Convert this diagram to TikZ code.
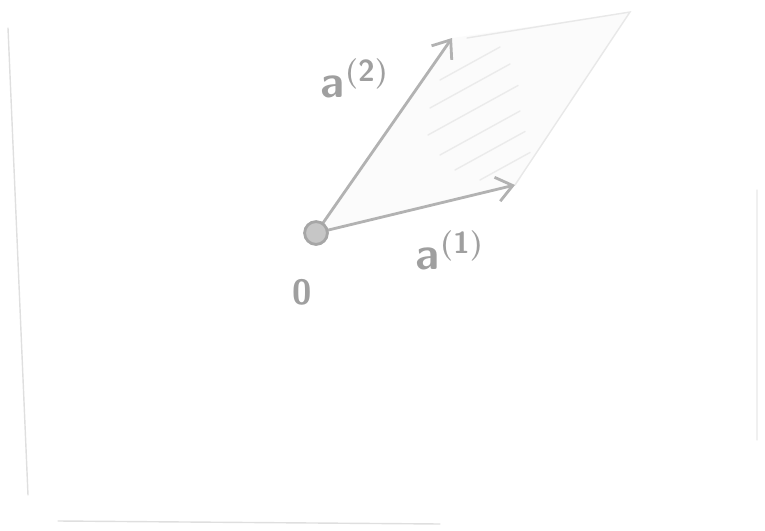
\documentclass[tikz,border=0pt]{standalone}
\usetikzlibrary{arrows.meta}
\begin{document}
\begin{tikzpicture}[x=0.02cm, y=-0.02cm, >={Straight Barb[length=9pt,width=14pt]},
  pencil/.style={draw=gray!60, line width=1.6pt, line cap=round},
  faint/.style={draw=gray!18, line width=0.8pt, line cap=round},
  lbl/.style={text=gray!75, font=\fontsize{26}{26}\selectfont\sffamily\bfseries\boldmath}]
\useasboundingbox (0,0) rectangle (765,531);
% frame of the page
\draw[faint, gray!25] (8,28) -- (28,495);
\draw[faint, gray!25] (58,521) -- (440,524);
\draw[faint, gray!12] (757,190) -- (757,440);
% corners of the parallelogram
\coordinate (O) at (316,233);
\coordinate (A1) at (515,185);
\coordinate (A2) at (452,38);
\coordinate (S) at (630,12);
% shaded area
\fill[gray!3] (O) -- (A1) -- (S) -- (A2) -- cycle;
\draw[faint] (A2) ++(15,0) -- (S) -- (A1);
\foreach \x/\y/\l in {440/80/60, 430/108/80, 428/135/90, 440/155/80, 455/170/70, 480/180/50}
  \draw[faint, gray!16] (\x,\y) -- ++(\l,-0.55*\l);
% vectors
\draw[pencil, ->] (O) -- (A1);
\draw[pencil, ->] (O) -- (A2);
\node[draw=gray!70, fill=gray!45, line width=1.6pt, circle, minimum size=13pt, inner sep=0pt] (o) at (O) {};
% labels
\node[lbl] (l2) at (355,78) {a$^{\mathsf{(2)}}$};
\node[lbl] (l1) at (450,250) {a$^{\mathsf{(1)}}$};
\node[lbl, font=\fontsize{20}{20}\selectfont\sffamily\bfseries] (l0) at (302,292) {0};
\end{tikzpicture}
\end{document}
